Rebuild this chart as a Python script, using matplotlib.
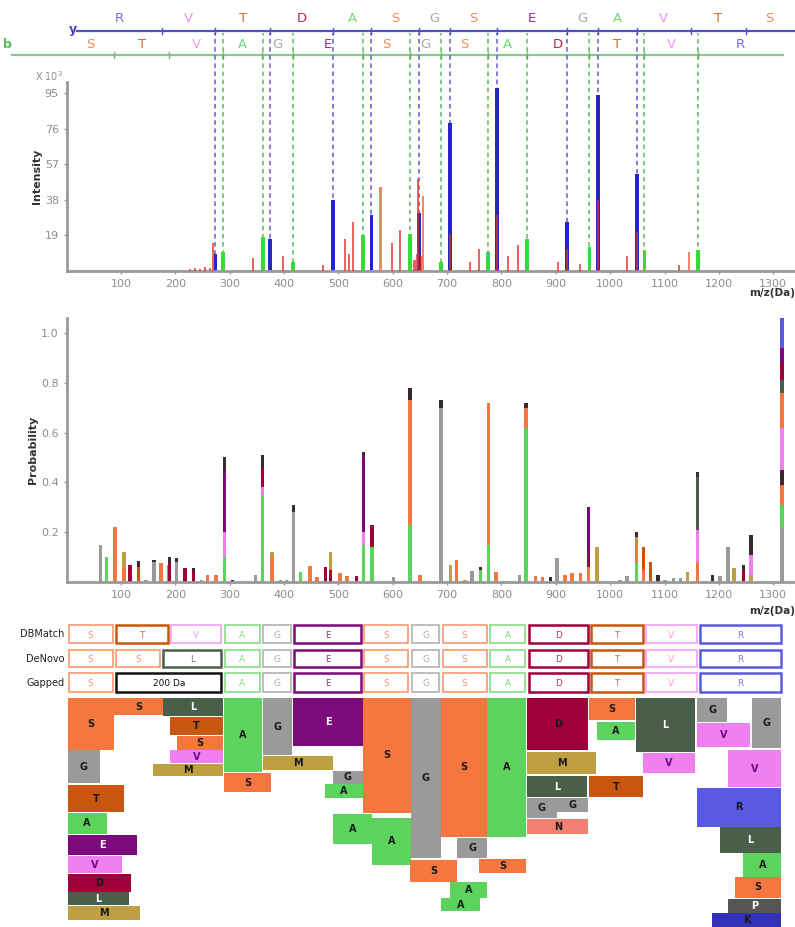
import matplotlib.pyplot as plt
from matplotlib.patches import Rectangle
import numpy as np

# colours per residue
aa_col = {'S': '#f5763f', 'T': '#c8560f', 'V': '#f080f0', 'A': '#5cd35c', 'G': '#9a9a9a',
          'E': '#7d0a7d', 'D': '#a0003a', 'R': '#5a5ae0', 'L': '#4a5f4a', 'M': '#bfa040',
          'N': '#f28070', 'K': '#3232b4', 'P': '#555555', 'X': '#3a2a32'}

# ion ladders (m/z)
y_ions = [19, 175, 274, 375, 490, 561, 648, 705, 792, 921, 978, 1049, 1148, 1249, 1336]
y_seq = "RVTDASGSEGAVTS"
b_ions = [1, 88, 189, 288, 359, 416, 545, 632, 689, 776, 847, 962, 1063, 1162, 1318]
b_seq = "STVAGESGSADTVR"
y_dashed = [274, 375, 490, 561, 648, 705, 792, 921, 978, 1049]
b_dashed = [288, 361, 416, 545, 632, 689, 776, 847, 962, 1063, 1162]

# spectrum peaks (intensity x 10^3)
blue_mz = [274, 375, 490, 561, 648, 705, 792, 921, 978, 1049]
blue_int = [9, 17, 38, 30, 31, 79, 98, 26, 94, 52]
green_mz = [288, 361, 416, 545, 632, 689, 776, 847, 962, 1063, 1162]
green_int = [10, 18, 5, 19, 20, 5, 10, 17, 13, 11, 11]
red_mz = [227, 236, 246, 255, 264, 270, 343, 398, 472, 512, 520, 527, 599, 614, 640, 644,
          646, 652, 705, 742, 759, 792, 812, 831, 904, 921, 945, 978, 1031, 1049, 1127]
red_int = [1, 1.5, 1, 2, 1.5, 15, 7, 8, 3, 17, 9, 26, 15, 22, 6, 9,
           49, 8, 20, 5, 12, 30, 8, 14, 5, 12, 4, 38, 8, 21, 3]
salmon_mz = [577, 656, 1145]
salmon_int = [45, 40, 10]

# probability bars: m/z and stacked segments (residue, height)
prob_mz = [62, 74, 89, 106, 117, 132, 146, 161, 174, 187, 190, 203, 218, 233, 248, 259, 275,
           290, 305, 347, 360, 378, 393, 404, 417, 430, 448, 461, 476, 485, 503, 516, 534,
           546, 562, 601, 632, 650, 689, 706, 718, 733, 746, 761, 776, 790, 804, 833, 845,
           862, 875, 890, 902, 917, 930, 945, 960, 976, 1018, 1031, 1048, 1061, 1074, 1088,
           1101, 1116, 1129, 1142, 1160, 1188, 1202, 1217, 1228, 1245, 1259, 1316]
prob_stack = [
    [('G', .15)], [('A', .10)], [('S', .22)], [('S', .06), ('M', .06)], [('D', .07)],
    [('T', .06), ('X', .025)], [('G', .01)], [('G', .08), ('X', .01)], [('S', .075)], [('S', .07)],
    [('D', .08), ('X', .02)], [('G', .08), ('X', .015)], [('D', .055)], [('D', .045), ('X', .01)],
    [('M', .01)], [('S', .03)], [('S', .03)],
    [('A', .10), ('V', .10), ('E', .24), ('X', .06)], [('X', .01)], [('G', .03)],
    [('A', .35), ('V', .03), ('D', .08), ('X', .05)], [('S', .10), ('M', .02)], [('G', .01)],
    [('G', .01)], [('G', .28), ('X', .03)], [('A', .04)], [('S', .065)], [('S', .02)],
    [('D', .06)], [('D', .05), ('M', .07)], [('S', .035)], [('S', .025)], [('D', .025)],
    [('A', .15), ('V', .05), ('E', .30), ('X', .02)], [('A', .14), ('D', .09)], [('G', .02)],
    [('A', .23), ('S', .50), ('X', .05)], [('S', .03)], [('G', .70), ('X', .03)], [('M', .07)],
    [('S', .09)], [('M', .01)], [('G', .045)], [('A', .05), ('X', .01)],
    [('A', .15), ('S', .57)], [('S', .04)], [('G', .005)], [('G', .03)],
    [('A', .62), ('S', .08), ('X', .02)], [('S', .025)], [('S', .02)], [('X', .02)],
    [('G', .095)], [('S', .03)], [('S', .035)], [('S', .035)],
    [('S', .06), ('D', .05), ('E', .19)], [('M', .14)], [('G', .01)], [('G', .025)],
    [('A', .08), ('S', .10), ('X', .02)], [('S', .05), ('T', .09)], [('T', .08)], [('X', .03)],
    [('G', .01)], [('G', .015)], [('G', .015)], [('M', .04)],
    [('S', .08), ('V', .13), ('L', .21), ('X', .02)], [('X', .03)], [('G', .025)], [('G', .14)],
    [('M', .055)], [('D', .05), ('X', .02)], [('M', .03), ('V', .08), ('X', .08)],
    [('G', .22), ('A', .09), ('S', .08), ('X', .06), ('V', .17), ('S', .14), ('L', .05),
     ('D', .07), ('E', .06), ('R', .12)]]

# annotation rows: (residue, m/z start, m/z end)
row_names = ['DBMatch', 'DeNovo', 'Gapped']
row_dbmatch = [('S', 1, 88), ('T', 88, 189), ('V', 189, 288), ('A', 288, 359), ('G', 359, 416),
               ('E', 416, 545), ('S', 545, 632), ('G', 632, 689), ('S', 689, 776), ('A', 776, 847),
               ('D', 847, 962), ('T', 962, 1063), ('V', 1063, 1162), ('R', 1162, 1318)]
row_denovo = [('S', 1, 88), ('S', 88, 175), ('L', 175, 288)] + row_dbmatch[3:]
row_gapped = [('S', 1, 88), ('200 Da', 88, 288)] + row_dbmatch[3:]

# candidate blocks: (residue, m/z start, m/z end, depth top, depth bottom)
blocks = [
    ('S', 2, 88, 1, 53), ('S', 88, 178, 1, 18), ('L', 178, 288, 1, 19), ('T', 190, 288, 20, 38),
    ('S', 203, 288, 39, 53), ('V', 190, 288, 53, 66), ('M', 159, 288, 67, 79), ('G', 2, 62, 53, 86),
    ('T', 2, 106, 88, 115), ('A', 2, 74, 116, 137), ('E', 2, 130, 138, 158), ('V', 2, 102, 159, 176),
    ('D', 2, 119, 177, 195), ('L', 2, 115, 195, 208), ('M', 2, 135, 209, 223),
    ('A', 290, 360, 1, 75), ('S', 290, 376, 76, 95), ('G', 361, 415, 1, 58), ('M', 361, 490, 59, 73),
    ('E', 417, 545, 1, 49), ('G', 490, 545, 74, 87), ('A', 476, 545, 87, 101), ('S', 545, 634, 1, 116),
    ('A', 490, 562, 117, 147), ('A', 562, 634, 121, 168), ('G', 634, 688, 1, 161),
    ('S', 688, 774, 1, 140), ('A', 774, 846, 1, 140), ('G', 718, 774, 141, 161),
    ('S', 632, 718, 163, 185), ('S', 759, 846, 162, 176), ('A', 706, 774, 185, 201),
    ('A', 688, 761, 201, 214), ('D', 847, 960, 1, 53), ('M', 847, 974, 55, 77),
    ('L', 847, 958, 79, 100), ('G', 847, 902, 101, 121), ('G', 902, 960, 101, 115),
    ('N', 847, 960, 122, 137), ('T', 961, 1061, 79, 100), ('S', 961, 1046, 1, 23),
    ('A', 976, 1046, 25, 43), ('L', 1048, 1156, 1, 55), ('V', 1061, 1156, 56, 76),
    ('G', 1160, 1215, 1, 25), ('G', 1261, 1315, 1, 51), ('V', 1160, 1258, 26, 50),
    ('V', 1217, 1315, 53, 90), ('R', 1160, 1315, 91, 130), ('L', 1202, 1315, 130, 156),
    ('A', 1245, 1315, 156, 180), ('S', 1230, 1315, 180, 201), ('P', 1217, 1315, 202, 216),
    ('K', 1188, 1315, 216, 230)]

W, H = 795, 927
XMAX = 1340
x0 = 66.5 / W
xw = 1 - x0
fig = plt.figure(figsize=(W / 100, H / 100), dpi=100)
grey = '#8c8c8c'


def fy(py):
    return 1 - py / H


def style_axis(ax, ymax, yticks, ylabels, ylabel):
    ax.set_xlim(0, XMAX)
    ax.set_ylim(0, ymax)
    for s in ['top', 'right']:
        ax.spines[s].set_visible(False)
    for s in ['left', 'bottom']:
        ax.spines[s].set_color('#999999')
        ax.spines[s].set_linewidth(2)
    ax.set_xticks(range(100, 1301, 100))
    ax.set_yticks(yticks)
    ax.set_yticklabels(ylabels)
    ax.tick_params(colors='#999999', labelcolor=grey, labelsize=8, length=2, width=1)
    ax.set_ylabel(ylabel, fontsize=8, fontweight='bold', color='#333333', labelpad=2)
    ax.text(1.0, -0.09, 'm/z(Da)', transform=ax.transAxes, ha='right', va='top',
            fontsize=7.5, fontweight='bold', color='#333333')


# ---- ion ladder ----
ax_l = fig.add_axes([x0, fy(66), xw, 66 / H])
ax_l.set_xlim(0, XMAX)
ax_l.set_ylim(66, 0)
ax_l.axis('off')
ax_l.plot([y_ions[0], XMAX], [31, 31], color='#5050c8', lw=1.6)
ax_l.plot([-100, b_ions[-1]], [55, 55], color='#8cc88c', lw=1.6, clip_on=False)
for m in y_ions[1:-1]:
    ax_l.plot([m, m], [28, 34], color='#5050c8', lw=1)
for m in b_ions[1:-1]:
    ax_l.plot([m, m], [52, 58], color='#7cb87c', lw=1)
for i, c in enumerate(y_seq):
    ax_l.text((y_ions[i] + y_ions[i + 1]) / 2, 19, c, color=aa_col[c], ha='center', va='center',
              fontsize=9.5, alpha=0.85)
for i, c in enumerate(b_seq):
    ax_l.text((b_ions[i] + b_ions[i + 1]) / 2, 44, c, color=aa_col[c], ha='center', va='center',
              fontsize=9.5, alpha=0.85)
ax_l.text(y_ions[0], 29, 'y', color='#4040c0', ha='right', va='center', fontsize=9,
          fontweight='bold')
fig.text(0.004, fy(45), 'b', color='#5cb85c', ha='left', va='center', fontsize=9, fontweight='bold')

# ---- spectrum ----
ax1 = fig.add_axes([x0, fy(271), xw, (271 - 82) / H])
style_axis(ax1, 101, [19, 38, 57, 76, 95], ['19', '38', '57', '76', '95'], 'Intensity')
for m in y_dashed:
    ax1.axvline(m, ymin=0, ymax=(271 - 33) / (271 - 82), color='#3a3ac8', lw=1.3,
                ls=(0, (2.5, 2)), alpha=0.7, clip_on=False, zorder=1)
for m in b_dashed:
    ax1.axvline(m, ymin=0, ymax=(271 - 33) / (271 - 82), color='#3caa3c', lw=1.3,
                ls=(0, (2.5, 2)), alpha=0.7, clip_on=False, zorder=1)
ax1.bar(blue_mz, blue_int, width=7, color='#2626c8', zorder=2)
ax1.bar(green_mz, green_int, width=7, color='#33dd33', zorder=2)
ax1.bar(red_mz, red_int, width=4, color='#e0302a', alpha=0.75, zorder=3)
ax1.bar(salmon_mz, salmon_int, width=5, color='#f0866a', zorder=3)
ax1.text(-0.005, 1.03, 'X 10$^3$', transform=ax1.transAxes, ha='right', va='center',
         fontsize=7, color=grey)

# ---- probability ----
ax2 = fig.add_axes([x0, fy(582), xw, (582 - 318) / H])
style_axis(ax2, 1.06, [0.2, 0.4, 0.6, 0.8, 1.0], ['0.2', '0.4', '0.6', '0.8', '1.0'],
           'Probability')
for m, segs in zip(prob_mz, prob_stack):
    base = 0
    for aa, h in segs:
        ax2.bar(m, h, bottom=base, width=6, color=aa_col[aa], zorder=2)
        base += h

# ---- annotation rows + candidate blocks ----
top = 618
ax3 = fig.add_axes([x0, 0, xw, (H - top) / H])
ax3.set_xlim(0, XMAX)
ax3.set_ylim(H - top, 0)
ax3.axis('off')
row_y = [(7, 25), (32, 49), (55, 74)]
for name, row, (ya, yb) in zip(row_names, [row_dbmatch, row_denovo, row_gapped], row_y):
    ax3.text(-4, (ya + yb) / 2, name, ha='right', va='center', fontsize=7, color='#222222',
             clip_on=False)
    for aa, m0, m1 in row:
        ec = aa_col.get(aa, '#111111')
        thick = aa in ('T', 'E', 'D', 'R', 'L') or aa not in aa_col
        ax3.add_patch(Rectangle((m0 + 3, ya), m1 - m0 - 6, yb - ya, fill=False, ec=ec,
                                lw=1.8 if thick else 1.2, alpha=1 if thick else 0.75))
        ax3.text((m0 + m1) / 2, (ya + yb) / 2 + 1, aa, ha='center', va='center',
                 fontsize=6.5, color=ec if aa in aa_col else '#111111',
                 alpha=0.8 if aa in aa_col else 1)

off = 79
for aa, m0, m1, d0, d1 in blocks:
    ax3.add_patch(Rectangle((m0, off + d0), m1 - m0, d1 - d0, color=aa_col[aa], lw=0))
    tc = 'white' if aa in ('L', 'E', 'P') else ('#6a0a8a' if aa == 'V' else '#1a1a1a')
    ax3.text((m0 + m1) / 2, off + (d0 + d1) / 2, aa, ha='center', va='center', fontsize=7,
             fontweight='bold', color=tc)

fig.savefig('out.png', dpi=100)
